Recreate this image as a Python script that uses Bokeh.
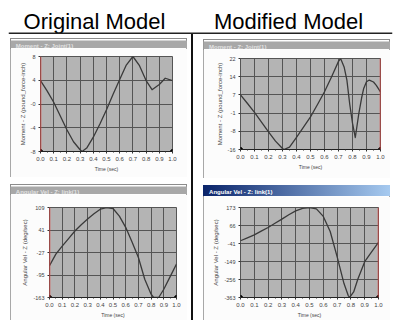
import numpy as np
from bokeh.plotting import figure
from bokeh.models import Range1d, FixedTicker, Span, Spacer, PrintfTickFormatter
from bokeh.layouts import column, row
from bokeh.embed import file_html
from bokeh.resources import INLINE
from bokeh.core.properties import value

# ---------------- data ----------------
panel_titles = ["Original Model", "Modified Model"]

time_ticks = [0.0, 0.1, 0.2, 0.3, 0.4, 0.5, 0.6, 0.7, 0.8, 0.9, 1.0]
time_minor = [0.05, 0.15, 0.25, 0.35, 0.45, 0.55, 0.65, 0.75, 0.85, 0.95]

# Original model – Moment Z
orig_moment_t = [0.0, 0.05, 0.1, 0.15, 0.2, 0.25, 0.3, 0.315, 0.35, 0.4, 0.45, 0.5,
                 0.55, 0.6, 0.65, 0.7, 0.75, 0.8, 0.845, 0.9, 0.945, 1.0]
orig_moment_v = [4.0, 2.2, 0.2, -2.2, -4.6, -6.7, -8.1, -8.4, -7.8, -5.9, -3.6, -1.1,
                 1.6, 4.2, 6.7, 8.2, 6.6, 4.0, 2.4, 3.3, 4.4, 4.0]
orig_moment_ylim = (-8.4, 8.2)
orig_moment_ylabels = ["-8", "-4", "-0", "4", "8"]

# Modified model – Moment Z
mod_moment_t = [0.0, 0.05, 0.1, 0.15, 0.2, 0.25, 0.3, 0.31, 0.35, 0.4, 0.45, 0.5, 0.55,
                0.6, 0.65, 0.7, 0.715, 0.74, 0.76, 0.78, 0.8, 0.82, 0.845, 0.865, 0.88,
                0.9, 0.92, 0.95, 0.97, 1.0]
mod_moment_v = [6.8, 3.2, -0.5, -4.6, -8.6, -12.5, -15.6, -16.0, -15.0, -10.9, -6.7, -2.4,
                2.8, 8.1, 14.3, 20.8, 22.0, 18.5, 13.0, 3.0, -5.0, -11.0, -1.0, 5.5, 9.5,
                12.3, 13.0, 12.2, 10.8, 8.0]
mod_moment_ylim = (-16.0, 22.0)
mod_moment_ylabels = ["-16", "-8", "-1", "7", "14", "22"]

# Original model – Angular velocity Z
orig_angvel_t = [0.0, 0.05, 0.1, 0.15, 0.2, 0.25, 0.3, 0.35, 0.4, 0.45, 0.5, 0.55, 0.6,
                 0.65, 0.7, 0.75, 0.8, 0.82, 0.86, 0.9, 0.95, 1.0]
orig_angvel_v = [-67, -32, -8, 15, 38, 57, 74, 90, 104, 109, 106, 83, 49,
                 5, -42, -108, -153, -163, -163, -138, -100, -62]
orig_angvel_ylim = (-163.0, 109.0)
orig_angvel_ylabels = ["-163", "-95", "-27", "41", "109"]

# Modified model – Angular velocity Z
mod_angvel_t = [0.0, 0.05, 0.1, 0.15, 0.2, 0.25, 0.3, 0.35, 0.4, 0.45, 0.5, 0.55, 0.6,
                0.65, 0.7, 0.75, 0.78, 0.79, 0.82, 0.85, 0.9, 0.95, 1.0]
mod_angvel_v = [-25, -8, 10, 32, 54, 79, 104, 130, 153, 168, 173, 165, 120,
                30, -120, -280, -350, -363, -330, -254, -150, -92, -35]
mod_angvel_ylim = (-363.0, 173.0)
mod_angvel_ylabels = ["-363", "-256", "-149", "-41", "66", "173"]

moment_ylabel = "Moment - Z (pound_force-inch)"
angvel_ylabel = "Angular Vel - Z (deg/sec)"
time_label = "Time (sec)"
moment_window = "Moment - Z: Joint(1)"
angvel_window = "Angular Vel - Z: link(1)"
marker_left = 0.0
marker_right = 1.0

FONT = "Liberation Sans"


def bare(width, height, **kw):
    f = figure(width=width, height=height, x_range=Range1d(0, 1), y_range=Range1d(0, 1),
               x_axis_location=None, y_axis_location=None, min_border=0, title=None,
               outline_line_color=None, toolbar_location=None, output_backend="svg", **kw)
    f.grid.visible = False
    return f


def make_window(title, active, t, v, ylim, ylabels, ylab, marker,
                w, h_title, h_plot, bl, br, bt, bb):
    tb = bare(w, h_title)
    if active:
        tb.background_fill_alpha = 0
        tb.border_fill_alpha = 0
        tb.styles = {"background": "linear-gradient(90deg, #0a246a, #a6caf0)"}
        tcol = "#ffffff"
    else:
        tb.background_fill_color = "#a8a8a8"
        tb.border_fill_color = "#a8a8a8"
        tcol = "#e2e2e2"
    tb.text(x=[0.03], y=[0.5], text=[title], text_font=value(FONT), text_font_size="6px",
            text_baseline="middle", text_color=tcol, text_font_style="bold")

    p = figure(width=w, height=h_plot, x_range=Range1d(0, 1), y_range=Range1d(*ylim),
               output_backend="svg", toolbar_location=None, title=None,
               min_border_left=bl, min_border_right=br, min_border_top=bt, min_border_bottom=bb,
               background_fill_color="#b4b4b4", border_fill_color="#fcfcfc",
               outline_line_color="#555555")
    yt = [float(x) for x in np.linspace(ylim[0], ylim[1], len(ylabels))]
    p.xaxis.ticker = FixedTicker(ticks=time_ticks, minor_ticks=time_minor)
    p.xaxis.formatter = PrintfTickFormatter(format="%.1f")
    p.yaxis.ticker = FixedTicker(ticks=yt)
    p.yaxis.major_label_overrides = {k: s for k, s in zip(yt, ylabels)}
    p.xaxis.axis_label = time_label
    p.yaxis.axis_label = ylab
    for ax in (p.xaxis[0], p.yaxis[0]):
        ax.major_label_text_font = FONT
        ax.major_label_text_color = "#444444"
        ax.axis_label_text_font = FONT
        ax.axis_label_text_font_style = "normal"
        ax.axis_label_text_color = "#444444"
        ax.major_tick_in = 0
        ax.major_tick_out = 2
        ax.minor_tick_in = 0
        ax.minor_tick_out = 1
        ax.major_tick_line_color = "#333333"
        ax.minor_tick_line_color = "#333333"
        ax.axis_label_standoff = 2
        ax.major_label_standoff = 3
    p.xaxis.major_label_text_font_size = "6px"
    p.xaxis.axis_label_text_font_size = "5px"
    p.xaxis.axis_line_color = "#222222"
    p.yaxis.major_label_text_font_size = "5.5px"
    p.yaxis.axis_label_text_font_size = "6px"
    p.yaxis.axis_line_color = None
    p.grid.grid_line_color = "#555555"
    p.grid.grid_line_width = 1

    p.line(t, v, line_color="#3a3a3a", line_width=1.3, line_join="round")
    p.add_layout(Span(location=marker, dimension="height", line_color="#e0403c", line_width=1.5))
    p.scatter([time_ticks[0], time_ticks[-1]], [ylim[0], ylim[0]], size=4, color="black")

    return column(row(tb), p, styles={"outline": "1px solid #8c8c8c", "outline-offset": "-1px"})


tl = make_window(moment_window, False, orig_moment_t, orig_moment_v, orig_moment_ylim,
                 orig_moment_ylabels, moment_ylabel, marker_left, 177, 10, 129, 30, 15, 8, 26)
bl = make_window(angvel_window, False, orig_angvel_t, orig_angvel_v, orig_angvel_ylim,
                 orig_angvel_ylabels, angvel_ylabel, marker_left, 177, 10, 126, 39, 11, 13, 23)
tr = make_window(moment_window, False, mod_moment_t, mod_moment_v, mod_moment_ylim,
                 mod_moment_ylabels, moment_ylabel, marker_right, 187, 10, 129, 37, 10, 9, 29)
br = make_window(angvel_window, True, mod_angvel_t, mod_angvel_v, mod_angvel_ylim,
                 mod_angvel_ylabels, angvel_ylabel, marker_right, 187, 11, 124, 37, 12, 11, 23)

# header: page x 8..392 is the frame, height 34 with the rule at the bottom
hdr = figure(width=396, height=34, x_range=Range1d(8, 392), y_range=Range1d(0, 34),
             x_axis_location=None, y_axis_location=None, min_border=0,
             min_border_left=8, min_border_right=4, title=None,
             outline_line_color=None, toolbar_location=None, output_backend="svg")
hdr.grid.visible = False
hdr.text(x=[94, 288], y=[13, 13], text=panel_titles, text_font=value(FONT),
         text_font_size="22px", text_align="center", text_baseline="middle",
         text_color="#000000")
hdr.add_layout(Span(location=1, dimension="width", line_color="#222222", line_width=2))

divider = Spacer(width=2, height=286, styles={"background-color": "#111111"})

left_col = column(Spacer(width=177, height=4), tl, Spacer(width=177, height=7), bl)
right_col = column(Spacer(width=187, height=5), tr, Spacer(width=187, height=7), br)
body = row(Spacer(width=10, height=286), left_col, Spacer(width=4, height=286), divider,
           Spacer(width=10, height=286), right_col)
root = column(hdr, body)

open("out.html", "w").write(file_html(root, INLINE))
